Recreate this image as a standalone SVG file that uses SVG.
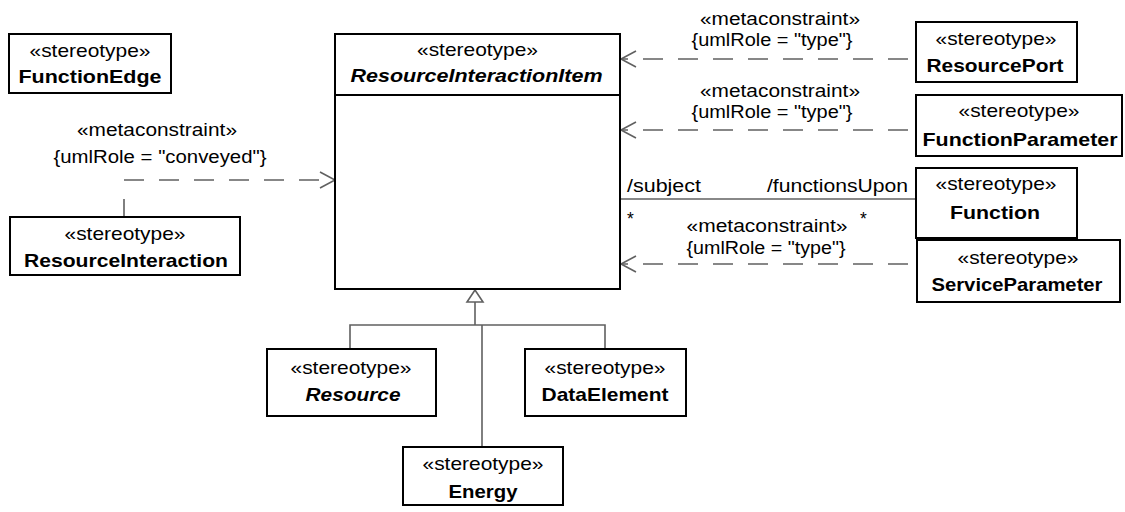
<svg xmlns="http://www.w3.org/2000/svg" width="1125" height="512" viewBox="0 0 1125 512">
<style>
.box{fill:#fff;stroke:#000;stroke-width:2}
.st{font-family:"Liberation Sans",Arial,sans-serif;font-size:18.5px;fill:#000;text-anchor:middle}
.nm{font-family:"Liberation Sans",Arial,sans-serif;font-size:18.5px;font-weight:bold;fill:#000;text-anchor:middle}
.it{font-style:italic}
.lb{font-family:"Liberation Sans",Arial,sans-serif;font-size:17.5px;fill:#000}
.c{fill:#000;text-anchor:middle}
.dash{fill:none;stroke:#606060;stroke-width:1.6;stroke-dasharray:20 15}
.sol{fill:none;stroke:#606060;stroke-width:1.6}
</style>
<rect width="1125" height="512" fill="#fff"/>

<g id="connectors">
  <line class="sol" x1="124" y1="199" x2="124" y2="217"/>
  <line class="dash" x1="124" y1="180" x2="334" y2="180"/>
  <polyline class="sol" points="320,172 335,180 320,188"/>
  <text class="lb c" x="157" y="136" textLength="160" lengthAdjust="spacingAndGlyphs">«metaconstraint»</text>
  <text class="lb c" x="160" y="163" textLength="213" lengthAdjust="spacingAndGlyphs">{umlRole = "conveyed"}</text>
  <line class="dash" x1="908" y1="59" x2="622" y2="59"/>
  <polyline class="sol" points="636,51 621,59 636,67"/>
  <text class="lb c" x="780" y="25" textLength="160" lengthAdjust="spacingAndGlyphs">«metaconstraint»</text>
  <text class="lb c" x="772" y="46" textLength="161" lengthAdjust="spacingAndGlyphs">{umlRole = "type"}</text>
  <line class="dash" x1="908" y1="130" x2="622" y2="130"/>
  <polyline class="sol" points="636,122 621,130 636,138"/>
  <text class="lb c" x="780" y="97" textLength="160" lengthAdjust="spacingAndGlyphs">«metaconstraint»</text>
  <text class="lb c" x="772" y="118" textLength="161" lengthAdjust="spacingAndGlyphs">{umlRole = "type"}</text>
  <line class="sol" x1="621" y1="199" x2="916" y2="199"/>
  <text class="lb" x="627" y="192" textLength="74" lengthAdjust="spacingAndGlyphs">/subject</text>
  <text class="lb" x="767" y="192" textLength="141" lengthAdjust="spacingAndGlyphs">/functionsUpon</text>
  <text class="lb" x="627" y="225">*</text>
  <text class="lb" x="860" y="225">*</text>
  <line class="dash" x1="908" y1="264" x2="622" y2="264"/>
  <polyline class="sol" points="636,256 621,264 636,272"/>
  <text class="lb c" x="767" y="232" textLength="161" lengthAdjust="spacingAndGlyphs">«metaconstraint»</text>
  <text class="lb c" x="766" y="254" textLength="159" lengthAdjust="spacingAndGlyphs">{umlRole = "type"}</text>
  <polygon points="475,290 467,302 483,302" fill="#fff" stroke="#606060" stroke-width="1.6"/>
  <line class="sol" x1="475" y1="302" x2="475" y2="325"/>
  <polyline class="sol" points="350,349 350,325 605,325 605,349"/>
  <line class="sol" x1="482" y1="325" x2="482" y2="447"/>
</g>

<g id="FunctionEdge">
  <rect class="box" x="9" y="34" width="162" height="59"/>
  <text class="st" x="90" y="57" textLength="121" lengthAdjust="spacingAndGlyphs">«stereotype»</text>
  <text class="nm" x="90" y="83" textLength="143" lengthAdjust="spacingAndGlyphs">FunctionEdge</text>
</g>

<g id="ResourceInteractionItem">
  <rect class="box" x="335" y="34" width="285" height="255"/>
  <line x1="335" y1="95" x2="620" y2="95" stroke="#000" stroke-width="2"/>
  <text class="st" x="477.5" y="56" textLength="121" lengthAdjust="spacingAndGlyphs">«stereotype»</text>
  <text class="nm it" x="476.5" y="82" textLength="252" lengthAdjust="spacingAndGlyphs">ResourceInteractionItem</text>
</g>

<g id="ResourceInteraction">
  <rect class="box" x="10" y="217" width="230" height="58"/>
  <text class="st" x="125" y="240" textLength="121" lengthAdjust="spacingAndGlyphs">«stereotype»</text>
  <text class="nm" x="126" y="267" textLength="204" lengthAdjust="spacingAndGlyphs">ResourceInteraction</text>
</g>

<g id="ResourcePort">
  <rect class="box" x="916" y="22" width="161" height="60"/>
  <text class="st" x="996" y="45" textLength="121" lengthAdjust="spacingAndGlyphs">«stereotype»</text>
  <text class="nm" x="995" y="72" textLength="137" lengthAdjust="spacingAndGlyphs">ResourcePort</text>
</g>

<g id="FunctionParameter">
  <rect class="box" x="916" y="95" width="206" height="61"/>
  <text class="st" x="1019" y="117" textLength="121" lengthAdjust="spacingAndGlyphs">«stereotype»</text>
  <text class="nm" x="1020" y="146" textLength="195" lengthAdjust="spacingAndGlyphs">FunctionParameter</text>
</g>

<g id="Function">
  <rect class="box" x="916" y="168" width="161" height="70"/>
  <text class="st" x="996" y="190" textLength="121" lengthAdjust="spacingAndGlyphs">«stereotype»</text>
  <text class="nm" x="995" y="219" textLength="90" lengthAdjust="spacingAndGlyphs">Function</text>
</g>

<g id="ServiceParameter">
  <rect class="box" x="917" y="240" width="203" height="62"/>
  <text class="st" x="1018" y="264" textLength="121" lengthAdjust="spacingAndGlyphs">«stereotype»</text>
  <text class="nm" x="1017" y="291" textLength="171" lengthAdjust="spacingAndGlyphs">ServiceParameter</text>
</g>

<g id="Resource">
  <rect class="box" x="267" y="349" width="169" height="67"/>
  <text class="st" x="351" y="374" textLength="121" lengthAdjust="spacingAndGlyphs">«stereotype»</text>
  <text class="nm it" x="353" y="401" textLength="95" lengthAdjust="spacingAndGlyphs">Resource</text>
</g>

<g id="DataElement">
  <rect class="box" x="525" y="349" width="161" height="67"/>
  <text class="st" x="605" y="374" textLength="121" lengthAdjust="spacingAndGlyphs">«stereotype»</text>
  <text class="nm" x="605" y="401" textLength="127" lengthAdjust="spacingAndGlyphs">DataElement</text>
</g>

<g id="Energy">
  <rect class="box" x="403" y="447" width="160" height="58"/>
  <text class="st" x="483" y="470" textLength="121" lengthAdjust="spacingAndGlyphs">«stereotype»</text>
  <text class="nm" x="483" y="498" textLength="69" lengthAdjust="spacingAndGlyphs">Energy</text>
</g>
</svg>
